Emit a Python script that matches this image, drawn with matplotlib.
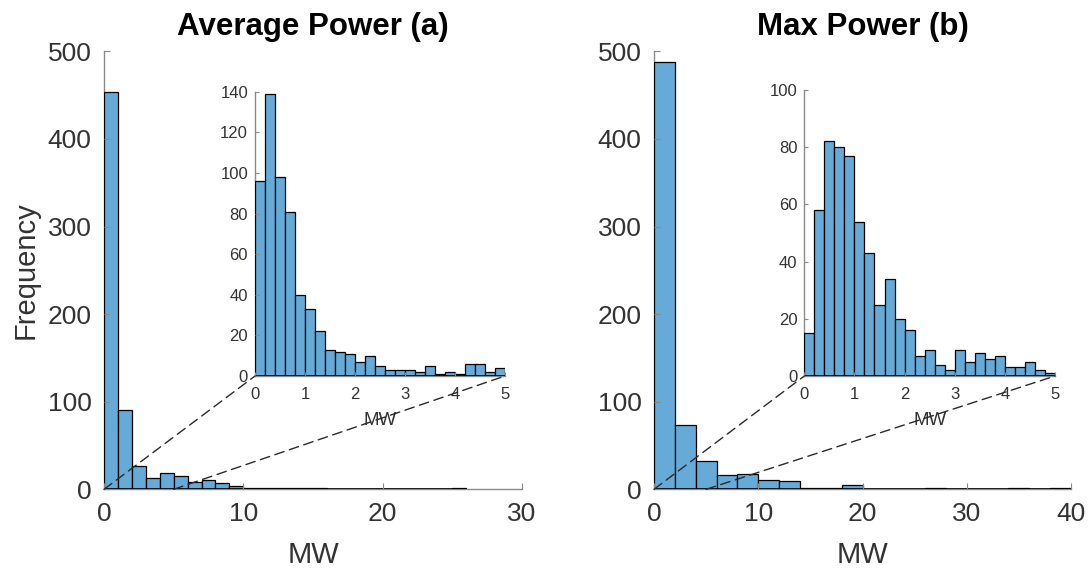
import numpy as np
import matplotlib
matplotlib.use("Agg")
import matplotlib.pyplot as plt
from matplotlib.patches import ConnectionPatch

plt.rcParams['font.family'] = ['Liberation Sans', 'DejaVu Sans']

# Average power: full-range histogram (1 MW bins) and zoomed 0-5 MW histogram (0.2 MW bins)
avg_bin_width = 1.0
avg_counts = [453, 90, 27, 13, 19, 15, 8, 11, 7, 4, 2, 1, 2, 2, 1, 2,
              0, 0, 0, 0, 0, 0, 0, 0, 0, 1]
avg_zoom_bin_width = 0.2
avg_zoom_counts = [96, 139, 98, 81, 40, 33, 22, 13, 12, 11, 7, 10, 5, 3, 3,
                   3, 2, 5, 1, 2, 1, 6, 6, 2, 4]

# Max power: full-range histogram (2 MW bins) and zoomed 0-5 MW histogram (0.2 MW bins)
max_bin_width = 2.0
max_counts = [488, 73, 32, 16, 18, 11, 10, 2, 1, 5, 0, 0, 0, 2, 0, 0, 0, 1, 0, 1]
max_zoom_bin_width = 0.2
max_zoom_counts = [15, 58, 82, 80, 77, 54, 43, 25, 34, 20, 16, 7, 9, 4, 2,
                   9, 5, 8, 6, 7, 3, 3, 5, 2, 1]

titles = ["Average Power (a)", "Max Power (b)"]
x_label = "MW"
y_label = "Frequency"
main_xticks = [[0, 10, 20, 30], [0, 10, 20, 30, 40]]
main_yticks = [0, 100, 200, 300, 400, 500]
zoom_xticks = [0, 1, 2, 3, 4, 5]
zoom_yticks = [[0, 20, 40, 60, 80, 100, 120, 140], [0, 20, 40, 60, 80, 100]]

FACE = (0.4, 0.668, 0.845)
AXIS_GRAY = '#8a8a8a'
TEXT_GRAY = '#333333'

W, H = 1091, 574
fig = plt.figure(figsize=(W / 100, H / 100), dpi=100)


def px_rect(x0, x1, ytop, ybot):
    return [x0 / W, 1 - ybot / H, (x1 - x0) / W, (ybot - ytop) / H]


def style_axes(ax, tick_size, pad):
    for side in ('top', 'right'):
        ax.spines[side].set_visible(False)
    for side in ('left', 'bottom'):
        ax.spines[side].set_color(AXIS_GRAY)
        ax.spines[side].set_linewidth(1.0)
        ax.spines[side].set_zorder(0.5)
    ax.tick_params(direction='in', length=4, width=0.8, color=AXIS_GRAY,
                   labelsize=tick_size, labelcolor=TEXT_GRAY, pad=pad)


def draw_hist(ax, counts, width):
    counts = np.asarray(counts, dtype=float)
    lefts = np.arange(len(counts)) * width
    ax.bar(lefts, counts, width=width, align='edge', color=FACE,
           edgecolor='black', linewidth=0.9, zorder=1)
    # empty bins still show their outline along the baseline
    ax.hlines(0, 0, len(counts) * width, colors='black', linewidth=1.2, zorder=1.1)


main_rects = [px_rect(104, 522, 51.3, 489.3), px_rect(654, 1071, 51.3, 489.3)]
zoom_rects = [px_rect(255, 505, 91.7, 376), px_rect(804.3, 1055, 90, 376)]
main_data = [(avg_counts, avg_bin_width), (max_counts, max_bin_width)]
zoom_data = [(avg_zoom_counts, avg_zoom_bin_width), (max_zoom_counts, max_zoom_bin_width)]

for i in range(2):
    ax = fig.add_axes(main_rects[i])
    counts, width = main_data[i]
    draw_hist(ax, counts, width)
    ax.set_xlim(main_xticks[i][0], main_xticks[i][-1])
    ax.set_ylim(0, 500)
    ax.set_xticks(main_xticks[i])
    ax.set_yticks(main_yticks)
    style_axes(ax, 19, 9)
    ax.set_xlabel(x_label, fontsize=21, color=TEXT_GRAY, labelpad=11)
    if i == 0:
        ax.set_ylabel(y_label, fontsize=21, color=TEXT_GRAY, labelpad=6)
    ax.set_title(titles[i], fontsize=22.5, fontweight='bold', pad=12)

    axz = fig.add_axes(zoom_rects[i])
    zc, zw = zoom_data[i]
    draw_hist(axz, zc, zw)
    axz.set_xlim(0, 5)
    axz.set_ylim(0, zoom_yticks[i][-1])
    axz.set_xticks(zoom_xticks)
    axz.set_yticks(zoom_yticks[i])
    style_axes(axz, 12, 5)
    axz.tick_params(axis='x', pad=8)
    axz.tick_params(length=3)
    axz.set_xlabel(x_label, fontsize=13.5, color=TEXT_GRAY, labelpad=7)

    # dashed guides from the zoomed range on the main axis to the inset corners
    for xa, xb in ((0, 0), (5, 1)):
        con = ConnectionPatch(xyA=(xa, 0), coordsA=ax.transData,
                              xyB=(xb, 0), coordsB=axz.transAxes,
                              linestyle=(0, (7, 4)), color='#2a2a2a',
                              linewidth=1.0, zorder=5)
        fig.add_artist(con)

fig.savefig("out.png", dpi=100)
